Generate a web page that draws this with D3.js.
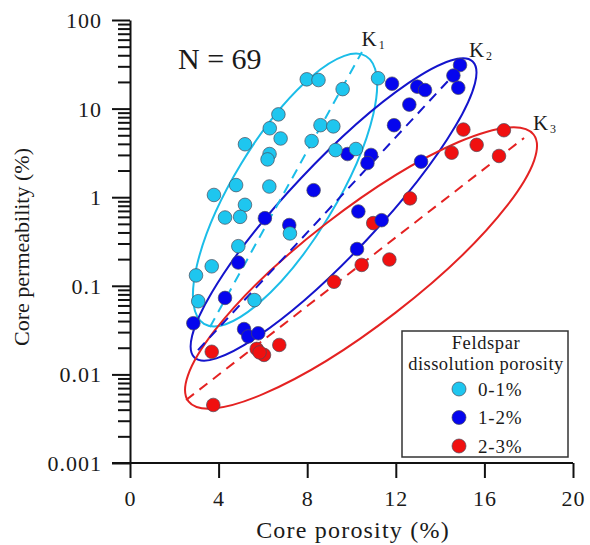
<!DOCTYPE html>
<html><head><meta charset="utf-8">
<script src="https://cdn.jsdelivr.net/npm/d3@7"></script>
<style>
body{margin:0;background:#fff;}
svg text{font-family:"Liberation Serif","Times New Roman",serif;fill:#1a1a1a;}
</style></head><body>
<svg id="chart" width="590" height="545"></svg>
<script>
// ---------- data ----------
const xTicks = [0, 4, 8, 12, 16, 20];
const yTicks = [0.001, 0.01, 0.1, 1, 10, 100];
const yTickLabels = ["0.001", "0.01", "0.1", "1", "10", "100"];
const groupNames = ["0-1%", "1-2%", "2-3%"];
const groupColors = ["#1ec6ef", "#0505ee", "#f01010"];
const lineColors = ["#1bbde8", "#1414cc", "#e42222"];

// [core porosity %, core permeability %]
const cyanPoints = [
  [7.98,21.4],[8.51,21.0],[9.60,16.6],[11.20,22.0],[6.70,8.6],[6.31,6.0],[6.80,4.6],
  [5.19,3.96],[6.30,3.07],[6.21,2.67],[8.60,6.5],[9.18,6.3],[8.20,4.3],[9.28,3.4],
  [10.20,3.5],[4.79,1.37],[6.29,1.32],[3.79,1.06],[5.19,0.82],[4.29,0.59],[4.97,0.60],
  [4.89,0.28],[3.69,0.166],[2.98,0.131],[3.08,0.067],[5.62,0.069],[7.22,0.39]
];
const bluePoints = [
  [11.83,19.1],[12.97,17.7],[13.32,16.2],[12.61,11.1],[14.90,31.0],[14.60,23.6],[14.82,17.2],
  [11.92,6.5],[9.82,3.07],[10.88,3.0],[10.72,2.43],[13.14,2.52],[8.29,1.20],[10.31,0.69],
  [11.36,0.55],[10.25,0.26],[6.09,0.58],[7.19,0.485],[4.89,0.183],[4.29,0.073],[2.86,0.0378],
  [5.15,0.0325],[5.34,0.0268],[5.79,0.0291]
];
const redPoints = [
  [15.05,5.8],[16.88,5.7],[15.65,3.9],[14.52,3.18],[16.66,2.92],[12.64,0.97],[10.98,0.51],
  [11.71,0.198],[10.46,0.172],[9.21,0.111],[3.69,0.0180],[5.72,0.0194],[6.05,0.0166],
  [6.74,0.0215],[3.76,0.00452],[5.85,0.0177]
];

// envelopes K1..K3: centre, end of long axis, width ratio
const ellipseCentres = [[7.00,1.205],[9.19,0.728],[10.43,0.159]];
const ellipseTips = [[10.66,39.0],[15.47,34.1],[18.22,5.1]];
const ellipseRatios = [0.327, 0.222, 0.259];
// dashed trend lines
const trendStarts = [[3.61,0.0343],[3.07,0.0188],[2.53,0.00514]];
const trendEnds = [[10.47,43.6],[14.90,28.7],[17.79,4.66]];
const trendLabels = ["1", "2", "3"];
const labelAnchors = [[10.45,50.9],[15.3,38.2],[18.19,5.73]];

// ---------- chart ----------
const svg = d3.select("#chart");
const x = d3.scaleLinear().domain([0, 20]).range([130, 573]);
const y = d3.scaleLog().domain([0.001, 100]).range([463, 20]);

// ellipses
const gE = svg.append("g");
ellipseCentres.forEach((c, i) => {
  const cx = x(c[0]), cy = y(c[1]);
  const tx = x(ellipseTips[i][0]), ty = y(ellipseTips[i][1]);
  const a = Math.hypot(tx - cx, ty - cy);
  const ang = Math.atan2(ty - cy, tx - cx) * 180 / Math.PI;
  gE.append("ellipse")
    .attr("cx", 0).attr("cy", 0).attr("rx", a).attr("ry", a * ellipseRatios[i])
    .attr("transform", `translate(${cx},${cy}) rotate(${ang})`)
    .attr("fill", "none").attr("stroke", lineColors[i]).attr("stroke-width", 2);
});
// dashed trend lines
trendStarts.forEach((s, i) => {
  gE.append("line")
    .attr("x1", x(s[0])).attr("y1", y(s[1]))
    .attr("x2", x(trendEnds[i][0])).attr("y2", y(trendEnds[i][1]))
    .attr("stroke", lineColors[i]).attr("stroke-width", 2)
    .attr("stroke-dasharray", "10,7");
});

// axes
const xAxis = d3.axisBottom(x).tickValues(xTicks).tickSize(15).tickSizeOuter(0)
  .tickPadding(12).tickFormat(d3.format("d"));
const gx = svg.append("g").attr("transform", "translate(0,463)").call(xAxis);
gx.select(".domain").attr("d", `M${x(0) - 18},0H${x(20)}`);

const minor = [];
for (let e = -3; e < 2; e++) for (let k = 2; k <= 9; k++) minor.push(k * Math.pow(10, e));
const gyMinor = svg.append("g").attr("transform", "translate(130,0)")
  .call(d3.axisLeft(y).tickValues(minor).tickSize(12).tickSizeOuter(0).tickFormat(""));
gyMinor.select(".domain").remove();
const gy = svg.append("g").attr("transform", "translate(130,0)")
  .call(d3.axisLeft(y).tickValues(yTicks).tickSize(18).tickSizeOuter(0).tickPadding(10)
    .tickFormat((d, i) => yTickLabels[i]));

svg.selectAll(".tick line").attr("stroke", "#111").attr("stroke-width", 2);
svg.selectAll(".domain").attr("stroke", "#111").attr("stroke-width", 2);
svg.selectAll(".tick text").style("font-family", "'Liberation Serif',serif")
  .style("font-size", "22px").style("letter-spacing", "1px").attr("fill", "#1a1a1a");
gy.selectAll(".tick text").attr("dy", "0.34em");

// axis titles
svg.append("text").attr("x", 353).attr("y", 538).attr("text-anchor", "middle")
  .style("font-size", "24px").style("letter-spacing", "1.2px").text("Core porosity (%)");
svg.append("text").attr("transform", "translate(29,247) rotate(-90)").attr("text-anchor", "middle")
  .style("font-size", "22px").text("Core permeability (%)");

// points
const gP = svg.append("g");
[redPoints, bluePoints, cyanPoints].forEach((pts, k) => {
  const gi = 2 - k;
  gP.selectAll(null).data(pts).enter().append("circle")
    .attr("cx", d => x(d[0])).attr("cy", d => y(d[1])).attr("r", 6.8)
    .attr("fill", groupColors[gi]).attr("stroke", "#4a4a5a").attr("stroke-width", 0.7);
});

// labels
labelAnchors.forEach((p, i) => {
  const t = svg.append("text").attr("x", x(p[0])).attr("y", y(p[1])).style("font-size", "21px");
  t.append("tspan").text("K");
  t.append("tspan").attr("dy", 3).style("font-size", "12px").attr("dx", 2).text(trendLabels[i]);
});
svg.append("text").attr("x", 178).attr("y", 69).style("font-size", "30px").text("N = 69");

// legend
const lg = svg.append("g");
lg.append("rect").attr("x", 402).attr("y", 331).attr("width", 166).attr("height", 126)
  .attr("fill", "#fff").attr("stroke", "#333").attr("stroke-width", 1.5);
lg.append("text").attr("x", 486).attr("y", 349).attr("text-anchor", "middle")
  .style("font-size", "18.5px").style("letter-spacing", "0.6px").text("Feldspar");
lg.append("text").attr("x", 486).attr("y", 370).attr("text-anchor", "middle")
  .style("font-size", "18.5px").style("letter-spacing", "0.45px").text("dissolution porosity");
groupNames.forEach((g, i) => {
  const cy = 389 + i * 28.5;
  lg.append("circle").attr("cx", 459).attr("cy", cy).attr("r", 7)
    .attr("fill", groupColors[i]).attr("stroke", "#4a4a5a").attr("stroke-width", 0.7);
  lg.append("text").attr("x", 478).attr("y", cy + 6.5).style("font-size", "19px")
    .style("letter-spacing", "0.8px").text(g);
});
</script>
</body></html>
